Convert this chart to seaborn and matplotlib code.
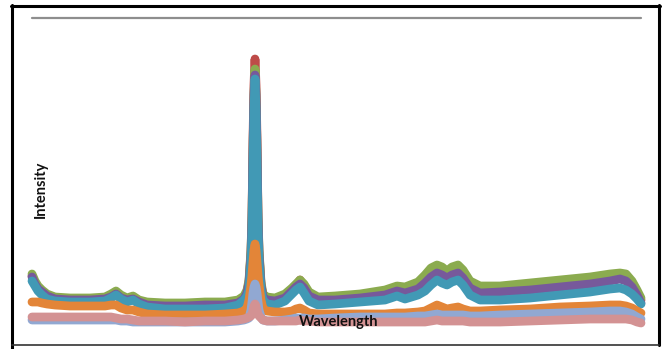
import numpy as np
import pandas as pd
import matplotlib
matplotlib.use("Agg")
import matplotlib.pyplot as plt
from matplotlib.lines import Line2D
import seaborn as sns

# Wavelength sampling points (nm)
wavelength = [400, 403, 406, 410, 415, 423, 438, 458, 473, 479,
              484, 489, 495, 501, 507, 515, 533, 553, 573, 593,
              606, 612, 615, 617, 619, 620, 621, 622, 623, 624,
              625, 626, 627, 629, 631, 635, 643, 653, 660, 664,
              668, 672, 677, 686, 703, 728, 753, 765, 773, 786,
              793, 799, 805, 810, 815, 820, 826, 831, 838, 848,
              868, 898, 928, 958, 978, 988, 994, 1000, 1005, 1009]

# Intensity of each measured sample
sample_1 = [54, 47, 42, 38, 34, 31, 30, 30, 31, 34,
            37, 33, 30, 32, 28, 26, 25, 25, 26, 26,
            28, 32, 38, 48, 78, 113, 190, 245, 271, 245,
            190, 113, 78, 46, 34, 31, 30, 34, 40, 44,
            50, 44, 36, 31, 32, 34, 38, 42, 41, 46,
            54, 60, 63, 61, 57, 61, 63, 58, 47, 42,
            42, 45, 48, 51, 54, 55, 54, 47, 38, 30]
sample_2 = [56, 49, 44, 40, 36, 33, 32, 32, 33, 36,
            39, 35, 32, 34, 30, 28, 27, 27, 28, 28,
            30, 34, 40, 50, 80, 115, 180, 235, 261, 235,
            180, 115, 80, 48, 36, 33, 32, 36, 42, 46,
            50, 46, 38, 33, 34, 36, 40, 44, 43, 48,
            55, 62, 65, 63, 59, 63, 65, 60, 49, 44,
            44, 47, 50, 53, 56, 57, 56, 49, 40, 32]
sample_3 = [53, 46, 41, 38, 34, 31, 30, 30, 31, 33,
            36, 32, 30, 31, 28, 25, 24, 24, 25, 25,
            27, 31, 37, 47, 75, 110, 180, 235, 255, 235,
            180, 110, 75, 45, 33, 30, 29, 32, 39, 43,
            46, 42, 34, 30, 30, 32, 35, 39, 37, 41,
            47, 53, 57, 55, 52, 55, 57, 52, 42, 37,
            38, 40, 43, 46, 49, 51, 49, 43, 35, 27]
sample_4 = [49, 44, 39, 35, 31, 29, 28, 28, 29, 32,
            35, 31, 28, 30, 26, 23, 21, 21, 21, 22,
            25, 30, 34, 40, 68, 100, 160, 220, 251, 220,
            160, 100, 68, 40, 30, 26, 25, 29, 36, 40,
            43, 37, 29, 25, 26, 28, 30, 34, 31, 35,
            39, 45, 50, 47, 45, 48, 50, 45, 35, 30,
            30, 32, 35, 38, 41, 42, 40, 36, 31, 26]
sample_5 = [28, 28, 28, 27, 26, 25, 24, 24, 24, 25,
            25, 22, 20, 20, 18, 16, 15, 15, 15, 16,
            17, 19, 22, 30, 45, 55, 68, 80, 86, 80,
            68, 55, 45, 30, 21, 19, 18, 18, 19, 21,
            22, 20, 17, 16, 16, 16, 16, 17, 17, 18,
            19, 22, 25, 23, 21, 22, 23, 21, 19, 19,
            20, 21, 23, 24, 25, 25, 24, 22, 19, 17]
sample_6 = [10, 10, 10, 10, 10, 10, 10, 10, 10, 10,
            10, 9, 9, 8, 8, 8, 8, 8, 8, 8,
            9, 10, 11, 12, 20, 28, 37, 43, 46, 43,
            37, 28, 20, 13, 10, 9, 9, 10, 11, 12,
            12, 12, 11, 11, 12, 13, 13, 13, 13, 14,
            14, 15, 16, 15, 15, 15, 15, 15, 14, 14,
            15, 16, 17, 18, 19, 19, 18, 16, 13, 11]
sample_7 = [13, 13, 13, 13, 13, 13, 13, 13, 13, 13,
            12, 11, 11, 10, 9, 9, 9, 8, 9, 9,
            10, 11, 12, 13, 14, 16, 20, 24, 26, 24,
            20, 16, 14, 12, 10, 9, 9, 9, 9, 9,
            10, 9, 9, 8, 8, 8, 8, 8, 8, 8,
            8, 9, 10, 9, 9, 9, 9, 9, 8, 8,
            8, 9, 10, 11, 11, 11, 11, 10, 8, 7]

series_names = ["S1", "S2", "S3", "S4", "S5", "S6", "S7"]
series_values = [sample_1, sample_2, sample_3, sample_4, sample_5, sample_6, sample_7]
series_colors = ["#BE4B48", "#8BAB4F", "#77599B", "#4199B5",
                 "#E38538", "#91A8D2", "#D39293"]

frames = []
for name, vals in zip(series_names, series_values):
    frames.append(pd.DataFrame({"Wavelength": wavelength,
                                "Intensity": vals,
                                "Sample": name}))
df = pd.concat(frames, ignore_index=True)

sns.set_theme(style="white")
plt.rcParams["lines.solid_joinstyle"] = "round"
plt.rcParams["lines.solid_capstyle"] = "round"
plt.rcParams["font.family"] = ["Lato", "DejaVu Sans"]

W, H = 662, 349
fig = plt.figure(figsize=(W / 100, H / 100), dpi=100)
fig.patch.set_facecolor("white")


def fx(px):
    return px / W


def fy(py):
    return 1 - py / H


ax = fig.add_axes([fx(32), fy(330), fx(641) - fx(32), fy(18) - fy(330)])
sns.lineplot(data=df, x="Wavelength", y="Intensity", hue="Sample",
             hue_order=series_names, palette=series_colors,
             estimator=None, sort=False, linewidth=6.3, legend=False, ax=ax)
for ln in ax.get_lines():
    ln.set_clip_on(False)

ax.set_xlim(400, 1009)
ax.set_ylim(0, 312)
ax.axhline(312, color="#8E8E8E", linewidth=1.6, zorder=0, clip_on=False)
ax.set_xticks([])
ax.set_yticks([])
ax.set_xlabel("")
ax.set_ylabel("")
for s in ax.spines.values():
    s.set_visible(False)
ax.patch.set_alpha(0)

fig.text(fx(339), fy(322), "Wavelength", ha="center", va="center",
         fontsize=10.5, fontweight="bold", color="#111111", zorder=10)
fig.text(fx(41), fy(189), "Intensity", ha="center", va="center",
         rotation=90, fontsize=10.5, fontweight="bold", color="#111111")

# outer chart frame
frame_kw = dict(transform=fig.transFigure, color="#000000", linewidth=2.2)
fig.add_artist(Line2D([fx(11.5), fx(11.5)], [fy(5), fy(349)], **frame_kw))
fig.add_artist(Line2D([fx(11), fx(660)], [fy(5.5), fy(5.5)], **frame_kw))
fig.add_artist(Line2D([fx(659), fx(659)], [fy(5), fy(345)], **frame_kw))
fig.add_artist(Line2D([fx(12), fx(659)], [fy(344.5), fy(344.5)],
                      transform=fig.transFigure, color="#333333", linewidth=1.2))

fig.savefig("out.png", dpi=100, facecolor="white")
